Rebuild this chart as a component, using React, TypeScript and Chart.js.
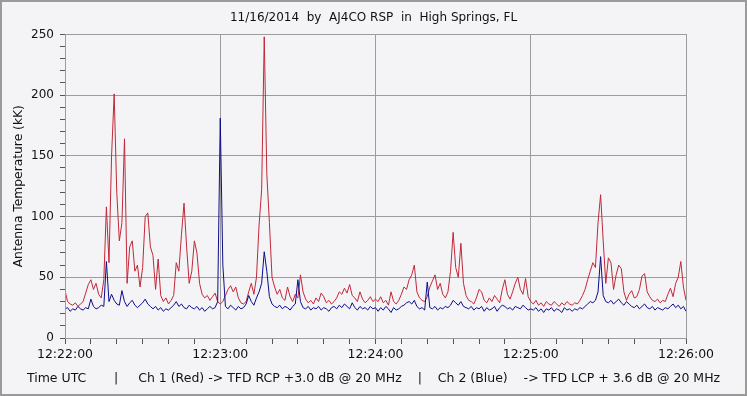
import React, { useEffect, useRef } from "react";
import { Chart, registerables } from "chart.js";

Chart.register(...registerables);

const titleText = "11/16/2014  by  AJ4CO RSP  in  High Springs, FL";
const yAxisTitle = "Antenna Temperature (kK)";
const footerText = "Time UTC       |     Ch 1 (Red) -> TFD RCP +3.0 dB @ 20 MHz    |    Ch 2 (Blue)    -> TFD LCP + 3.6 dB @ 20 MHz";
const timeTickLabels = ["12:22:00", "12:23:00", "12:24:00", "12:25:00", "12:26:00"];

// seconds after 12:22:00, one sample per second
const redRCP = [
  39, 30, 28, 27, 29, 26, 28, 30, 37, 44,
  48, 40, 45, 36, 33, 48, 108, 62, 150, 201,
  120, 80, 95, 164, 45, 75, 80, 55, 60, 42,
  58, 100, 103, 75, 68, 40, 65, 35, 30, 33,
  28, 31, 35, 62, 55, 85, 111, 75, 45, 55,
  80, 70, 45, 36, 33, 35, 31, 34, 37, 30,
  28, 30, 35, 40, 43, 38, 42, 33, 29, 28,
  30, 38, 45, 36, 50, 93, 122, 248, 135, 95,
  50, 42, 36, 40, 33, 31, 42, 34, 30, 36,
  33, 52, 38, 32, 29, 31, 28, 33, 30, 37,
  34, 29, 31, 28, 30, 33, 38, 36, 41, 37,
  44, 35, 33, 30, 38, 32, 29, 31, 34, 30,
  32, 30, 34, 29, 31, 27, 38, 30, 28, 31,
  36, 42, 40, 48, 52, 60, 38, 33, 31, 30,
  34, 42, 47, 52, 40, 45, 36, 33, 38, 55,
  87, 58, 50, 78, 45, 35, 31, 30, 28, 33,
  40, 38, 31, 29, 33, 30, 35, 32, 29, 40,
  48, 36, 32, 38, 45, 50, 40, 36, 49, 34,
  30, 28, 31, 27, 29, 26, 30, 28, 27, 30,
  28, 26, 29, 27, 30, 28, 27, 29, 28, 31,
  35, 40, 48, 55, 62, 58, 95, 118, 80, 45,
  66, 62, 40, 52, 60, 57, 38, 31, 36, 39,
  33, 34, 40, 51, 53, 38, 34, 31, 30, 32,
  29, 31, 30, 36, 41, 34, 45, 50, 63, 42,
  31
];

const blueLCP = [
  24, 25, 22, 24, 23, 26, 24, 23, 25, 24,
  32, 26, 24, 25, 27, 26, 63, 30, 36, 31,
  28, 27, 39, 30, 26, 29, 31, 27, 25, 27,
  29, 32, 28, 26, 24, 26, 23, 25, 22, 24,
  23, 25, 27, 30, 26, 28, 25, 24, 27, 25,
  24, 26, 23, 25, 22, 24, 26, 24, 25, 30,
  181, 60, 26, 24, 27, 25, 23, 26, 24, 25,
  28, 35, 30, 27, 33, 38, 45, 71, 55, 34,
  28, 26, 25, 27, 24, 26, 25, 23, 26, 28,
  48, 30, 25, 24, 26, 23, 25, 24, 26, 23,
  25, 24, 22, 25, 26, 24, 27, 25, 28, 26,
  24, 29, 25, 23, 26, 24, 25, 23, 26, 24,
  25, 22, 25, 23, 26, 24, 21, 25, 23, 24,
  26, 27, 29, 30, 28, 31, 26, 24, 25, 23,
  46, 25, 24, 26, 23, 25, 24, 26, 25, 27,
  31, 29, 27, 30, 26, 25, 24, 26, 23, 25,
  24, 26, 22, 25, 23, 24, 26, 22, 25, 27,
  26, 24, 25, 23, 26, 25, 24, 27, 25, 23,
  24, 23, 25, 22, 24, 21, 24, 23, 25, 22,
  24, 23, 21, 25, 23, 24, 22, 24, 23, 25,
  24, 26, 28, 30, 29, 31, 38, 67, 35, 30,
  29, 31, 28, 30, 32, 29, 27, 30, 28, 26,
  25, 27, 24, 26, 28, 25, 24, 26, 23, 25,
  24, 23, 25, 24, 26, 28, 25, 27, 24, 26,
  22
];

const FONT = "'DejaVu Sans', sans-serif";
const GRID = "#9c9c9c";
const BG = "#f4f4f7";

const framePlugin = {
  id: "frame",
  beforeDraw(chart: any) {
    const { ctx, width, height } = chart;
    ctx.save();
    ctx.fillStyle = BG;
    ctx.fillRect(0, 0, width, height);
    ctx.restore();
  },
  afterDraw(chart: any) {
    const { ctx, width, height, chartArea } = chart;
    ctx.save();
    ctx.strokeStyle = GRID;
    ctx.lineWidth = 1;
    ctx.strokeRect(
      Math.round(chartArea.left) + 0.5,
      Math.round(chartArea.top) + 0.5,
      Math.round(chartArea.right - chartArea.left),
      Math.round(chartArea.bottom - chartArea.top)
    );
    ctx.strokeStyle = "#9a9a9a";
    ctx.lineWidth = 2;
    ctx.strokeRect(1, 1, width - 2, height - 2);
    ctx.restore();
  },
};

export default function App() {
  const ref = useRef<HTMLCanvasElement | null>(null);

  useEffect(() => {
    document.body.style.margin = "0";
    const canvas = ref.current;
    if (!canvas) return;
    const red = redRCP.map((v, i) => ({ x: i, y: v }));
    const blue = blueLCP.map((v, i) => ({ x: i, y: v }));
    const chart = new Chart(canvas, {
      type: "line",
      data: {
        datasets: [
          {
            label: "Ch 2 (Blue)",
            data: blue,
            borderColor: "#0c0c8a",
            borderWidth: 1,
            pointRadius: 0,
            tension: 0,
            order: 0,
          },
          {
            label: "Ch 1 (Red)",
            data: red,
            borderColor: "#c02838",
            borderWidth: 1,
            pointRadius: 0,
            tension: 0,
            order: 1,
          },
        ],
      },
      options: {
        responsive: false,
        animation: false,
        devicePixelRatio: 1,
        layout: { padding: { left: 0, right: 0, top: 0, bottom: 0 } },
        plugins: {
          legend: { display: false },
          tooltip: { enabled: false },
          title: {
            display: true,
            text: titleText,
            color: "#111",
            font: { family: FONT, size: 12, weight: "normal" },
            padding: { top: 11, bottom: 9 },
          },
          subtitle: {
            display: true,
            position: "bottom",
            text: footerText,
            color: "#111",
            font: { family: FONT, size: 12.5, weight: "normal" },
            padding: { top: 4, bottom: 10 },
          },
        },
        scales: {
          x: {
            type: "linear",
            min: 0,
            max: 240,
            afterFit(scale: any) {
              scale.height = 29;
            },
            ticks: {
              stepSize: 10,
              autoSkip: false,
              maxRotation: 0,
              color: "#111",
              font: { family: FONT, size: 12.5 },
              padding: 3,
              callback: (v: any) => (Number(v) % 60 === 0 ? timeTickLabels[Number(v) / 60] : ""),
            },
            grid: {
              color: (c: any) => (c.tick && c.tick.value % 60 === 0 ? GRID : "rgba(0,0,0,0)"),
              tickColor: "#555",
              tickLength: 6,
              drawOnChartArea: true,
            },
            border: { display: false },
          },
          y: {
            min: 0,
            max: 250,
            afterFit(scale: any) {
              scale.width = 65;
            },
            ticks: {
              stepSize: 10,
              autoSkip: false,
              color: "#111",
              font: { family: FONT, size: 12 },
              padding: 6,
              callback: (v: any) => (Number(v) % 50 === 0 ? String(v) : ""),
            },
            grid: {
              color: (c: any) => (c.tick && c.tick.value % 50 === 0 ? GRID : "rgba(0,0,0,0)"),
              tickColor: "#555",
              tickLength: 5,
            },
            border: { display: false },
            title: {
              display: true,
              text: yAxisTitle,
              color: "#111",
              font: { family: FONT, size: 12.3 },
              padding: { top: 11, bottom: 0 },
            },
          },
          spacer: {
            type: "linear",
            position: "right",
            display: true,
            afterFit(scale: any) {
              scale.width = 61;
            },
            ticks: { display: false },
            grid: { display: false, drawTicks: false },
            border: { display: false },
          },
        },
      },
      plugins: [framePlugin],
    });
    return () => chart.destroy();
  }, []);

  return <canvas ref={ref} width={747} height={396} style={{ display: "block", width: 747, height: 396 }} />;
}
